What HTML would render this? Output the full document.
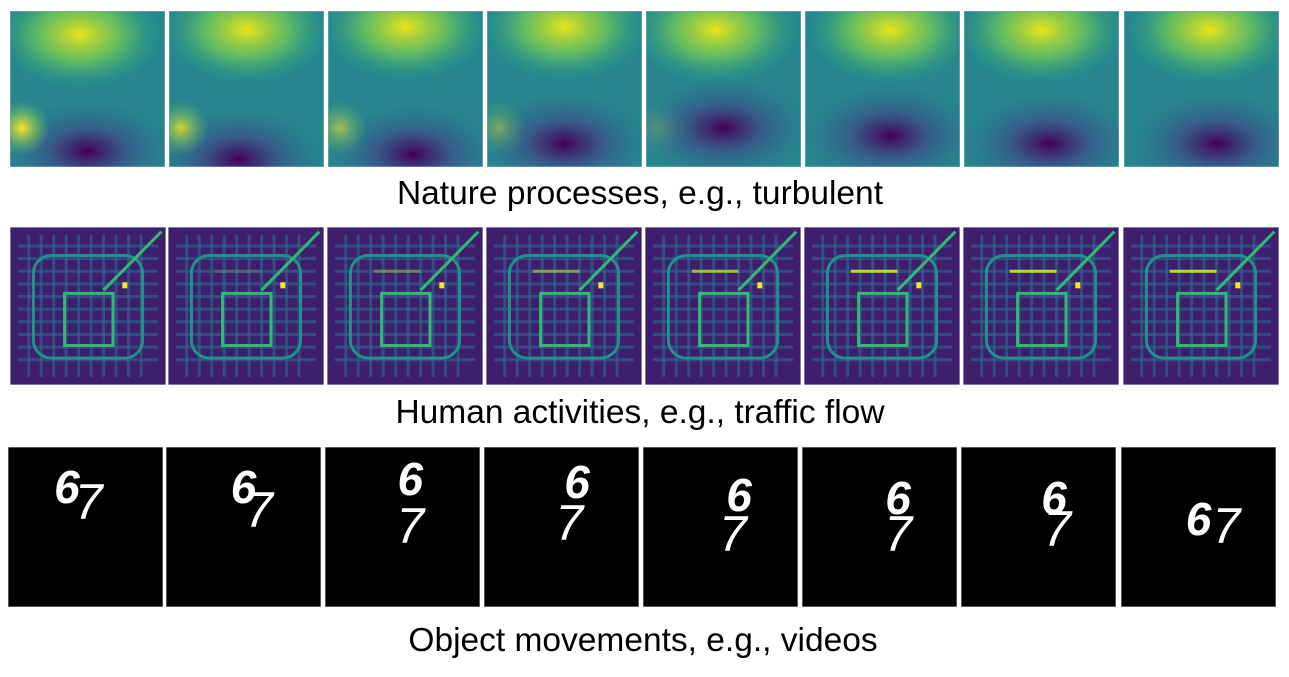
<!DOCTYPE html>
<html><head><meta charset="utf-8"><style>
html,body{margin:0;padding:0;background:#fff;width:1289px;height:677px;overflow:hidden}
svg{display:block}
.cap{font-family:"Liberation Sans",sans-serif;font-size:33.5px;fill:#000}
</style></head><body>
<svg id="fig" width="1289" height="677" viewBox="0 0 1289 677" xmlns="http://www.w3.org/2000/svg">
<defs id="defs">
<radialGradient id="yl" cx="50%" cy="50%" r="50%"><stop offset="0" stop-color="#e8e419"/><stop offset="0.5" stop-color="#7ad151" stop-opacity="0.7"/><stop offset="1" stop-color="#22a884" stop-opacity="0"/></radialGradient>
<radialGradient id="dk" cx="50%" cy="50%" r="50%"><stop offset="0" stop-color="#440154"/><stop offset="0.5" stop-color="#3b528b" stop-opacity="0.7"/><stop offset="1" stop-color="#31688e" stop-opacity="0"/></radialGradient>
<radialGradient id="gl" cx="50%" cy="50%" r="50%"><stop offset="0" stop-color="#fde725"/><stop offset="1" stop-color="#5ec962" stop-opacity="0"/></radialGradient>
</defs>
<g id="row1"></g>
<g id="row2"></g>
<g id="row3"></g>
<text class="cap" x="640" y="204" text-anchor="middle">Nature processes, e.g., turbulent</text>
<text class="cap" x="640" y="423" text-anchor="middle">Human activities, e.g., traffic flow</text>
<text class="cap" x="643" y="651" text-anchor="middle">Object movements, e.g., videos</text>
</svg>
<script>
const NS="http://www.w3.org/2000/svg";
const frameX1=[10,169,328,487,646,805,964,1124];
const frameX2=[10,168,327,486,645,804,963,1123];
const frameX3=[8,166,325,484,643,802,961,1121];
const yellowX=[0.45,0.5,0.5,0.5,0.45,0.55,0.5,0.55];
const yellowY=[0.15,0.12,0.1,0.1,0.12,0.12,0.12,0.12];
const darkX=[0.5,0.45,0.55,0.5,0.5,0.55,0.55,0.6];
const darkY=[0.9,0.95,0.92,0.85,0.75,0.8,0.85,0.85];
const sixX=[0.38,0.5,0.55,0.6,0.62,0.62,0.6,0.5];
const sixY=[0.35,0.35,0.3,0.32,0.4,0.42,0.42,0.55];
const sevX=[0.52,0.6,0.55,0.55,0.58,0.62,0.62,0.68];
const sevY=[0.45,0.5,0.6,0.58,0.65,0.65,0.62,0.6];
function el(tag,a,p){const e=document.createElementNS(NS,tag);for(const k in a)e.setAttribute(k,a[k]);p.appendChild(e);return e;}
const defs=document.getElementById('defs');
let cid=0;
function clip(x,y,w,h){const id='c'+(cid++);const c=el('clipPath',{id:id},defs);el('rect',{x:x,y:y,width:w,height:h},c);return 'url(#'+id+')';}
const r1=document.getElementById('row1'),r2=document.getElementById('row2'),r3=document.getElementById('row3');
const W=155,H=156;
frameX1.forEach((x,i)=>{
 const g=el('g',{'clip-path':clip(x,11,W,H)},r1);
 
 
 el('rect',{x:x,y:11,width:W,height:H,fill:'#26858e'},g);
 el('ellipse',{cx:x+W*yellowX[i],cy:11+H*yellowY[i],rx:85,ry:55,fill:'url(#yl)'},g);
 el('ellipse',{cx:x+W*darkX[i],cy:11+H*darkY[i],rx:85,ry:50,fill:'url(#dk)'},g);
 el('ellipse',{cx:x+12,cy:11+H*0.75,rx:28,ry:28,fill:'url(#gl)',opacity:Math.max(0,1-i*0.2)},g);
 el('rect',{x:x,y:11,width:W,height:H,fill:'none',stroke:'#9ab','stroke-width':1},g);
});
const gridLines=[0.12,0.2,0.28,0.36,0.44,0.52,0.6,0.68,0.76,0.84];
frameX2.forEach((x,i)=>{
 const y=227,w=156,h=158;
 const g=el('g',{'clip-path':clip(x,y,w,h)},r2);
 
 
 el('rect',{x:x,y:y,width:w,height:h,fill:'#3d1f6e'},g);
 gridLines.forEach(f=>{
  el('line',{x1:x+w*f,y1:y+8,x2:x+w*f,y2:y+h-8,stroke:'#31688e','stroke-width':3,opacity:0.6},g);
  el('line',{x1:x+8,y1:y+h*f,x2:x+w-8,y2:y+h*f,stroke:'#31688e','stroke-width':3,opacity:0.6},g);
 });
 el('rect',{x:x+w*0.15,y:y+h*0.18,width:w*0.7,height:h*0.65,rx:18,fill:'none',stroke:'#21918c','stroke-width':3},g);
 el('path',{d:`M${x+w*0.35} ${y+h*0.42}H${x+w*0.66}V${y+h*0.75}H${x+w*0.35}Z`,fill:'none',stroke:'#35b779','stroke-width':3},g);
 el('line',{x1:x+w*0.6,y1:y+h*0.4,x2:x+w*0.97,y2:y+h*0.03,stroke:'#35b779','stroke-width':3},g);
 el('rect',{x:x+w*0.72,y:y+h*0.35,width:5,height:6,fill:'#fde725'},g);
 el('line',{x1:x+w*0.3,y1:y+h*0.28,x2:x+w*0.6,y2:y+h*0.28,stroke:'#b5de2b','stroke-width':3,opacity:Math.min(1,i*0.2)},g);
 el('rect',{x:x,y:y,width:w,height:h,fill:'none',stroke:'#ccc','stroke-width':1},g);
});
frameX3.forEach((x,i)=>{
 const y=447,w=155,h=160;
 const g=el('g',{'clip-path':clip(x,y,w,h)},r3);
 
 
 el('rect',{x:x,y:y,width:w,height:h,fill:'#000',stroke:'#aaa','stroke-width':1},g);
 const s=el('text',{x:x+w*sixX[i],y:y+h*sixY[i],fill:'#fff','font-family':'Liberation Sans, sans-serif','font-size':46,'font-weight':'bold','font-style':'italic','text-anchor':'middle'},g);
 s.textContent='6';
 
 
 const t=el('text',{x:x+w*sevX[i],y:y+h*sevY[i],fill:'#fff','font-family':'Liberation Sans, sans-serif','font-size':50,'font-style':'italic','text-anchor':'middle'},g);
 t.textContent='7';
 
 
});
</script>
</body></html>
